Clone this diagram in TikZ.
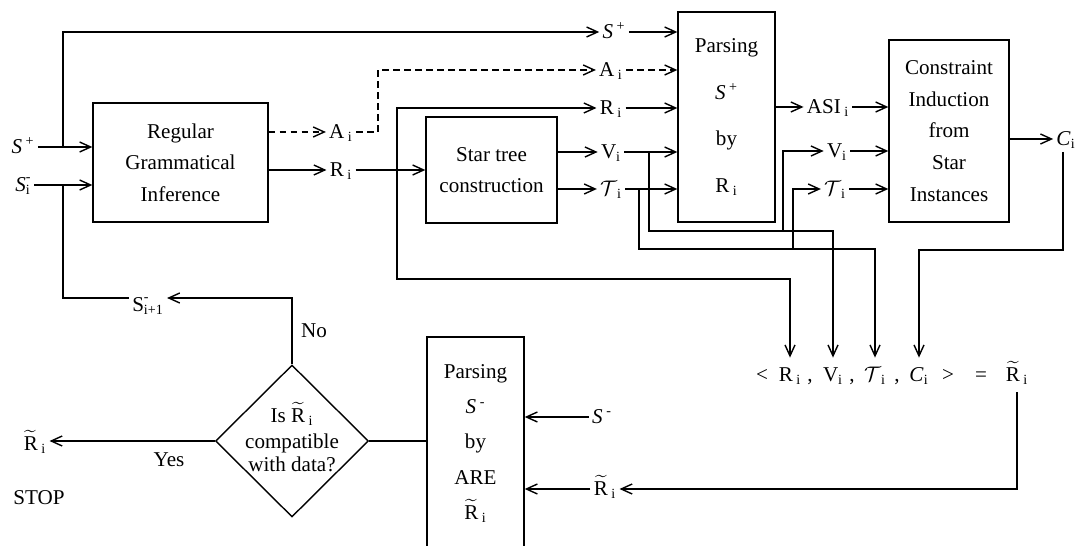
\documentclass[tikz,border=0pt]{standalone}
\usepackage{amsmath}
\usepackage{fontspec}
\setmainfont{Liberation Serif}
\usepackage{tikz}
\usetikzlibrary{
arrows.meta,
positioning,
shapes.geometric,
calc
}

\newcommand{\supsub}[3]{#1\rlap{\raisebox{0.25ex}{\textsuperscript{#2}}}\textsubscript{#3}}
\newcommand{\tildeRi}{$\widetilde{\text{R}}$\,\textsubscript{i}}
\newcommand{\tauTi}{$\mathcal{T}$\textsubscript{i}}

\begin{document}
\begin{tikzpicture}[
  x=0.02cm, y=-0.02cm,
  >={Straight Barb[length=2.2mm,width=2mm]},
  line width=0.8pt,
  every node/.style={font=\fontsize{12}{18}\selectfont},
  box/.style={draw, inner sep=0pt, align=center},
  lab/.style={inner sep=1.5pt, text height=9pt, text depth=2pt},
  tup/.style={lab, inner ysep=4pt},
  flow/.style={->},
  hint/.style={->, dash pattern=on 1.3mm off 0.9mm}
]
\useasboundingbox (0,0) rectangle (1077,546);

%% ── BOXES ───────────────────────────────────────────────────────
\node[box, minimum width=3.5cm, minimum height=2.38cm] (rgi) at (180.5,162.5)
  {Regular\\Grammatical\\Inference};
\node[box, minimum width=2.62cm, minimum height=2.12cm] (star) at (491.5,170)
  {Star tree\\construction};
\node[box, minimum width=1.94cm, minimum height=4.2cm,
      font=\fontsize{12}{26.5}\selectfont] (parse) at (726.5,117)
  {Parsing\\\textit{S}\,\textsuperscript{+}\\by\\R\,\textsubscript{i}};
\node[box, minimum width=2.4cm, minimum height=3.64cm] (cons) at (949,131)
  {Constraint\\Induction\\from\\Star\\Instances};
\node[box, minimum width=1.94cm, minimum height=4.26cm,
      font=\fontsize{12}{20}\selectfont] (parseneg) at (475.5,443.5)
  {Parsing\\\textit{S}\,\textsuperscript{-}\\by\\ARE\\\tildeRi};

%% ── DECISION ────────────────────────────────────────────────────
\node[draw, diamond, minimum width=3.06cm, minimum height=3.04cm,
      inner sep=0pt] (dia) at (292,441) {};
\node[align=center, font=\fontsize{12}{13}\selectfont] (diatxt) at (292,437)
  {Is \tildeRi\\[2pt]compatible\\with data?};

%% ── LABELS ──────────────────────────────────────────────────────
\node[lab] (spin)  at (23,147)  {\textit{S}\,\textsuperscript{+}};
\node[lab] (sin)   at (23,185)  {\supsub{\textit{S}}{-}{i}};
\node[lab] (aone)  at (341,132) {A\,\textsubscript{i}};
\node[lab] (rone)  at (341,170) {R\,\textsubscript{i}};
\node[lab] (sptop) at (614,32)  {\textit{S}\,\textsuperscript{+}};
\node[lab] (atop)  at (611,70)  {A\,\textsubscript{i}};
\node[lab] (rtop)  at (611,108) {R\,\textsubscript{i}};
\node[lab] (vtop)  at (611,152) {V\textsubscript{i}};
\node[lab] (ttop)  at (611,189) {\tauTi};
\node[lab] (asi)   at (828,107) {ASI\,\textsubscript{i}};
\node[lab] (vsec)  at (837,151) {V\textsubscript{i}};
\node[lab] (tsec)  at (835,189) {\tauTi};
\node[lab] (ci)    at (1066,139) {\textit{C}\textsubscript{i}};
\node[lab] (snext) at (148,305) {\supsub{S}{-}{i+1}};
\node[lab] (no)    at (314,331) {No};
\node[lab] (yes)   at (169,460) {Yes};
\node[lab] (rstop) at (35,444)  {\tildeRi};
\node[lab] (stop)  at (39,498)  {STOP};
\node[lab] (sneg)  at (602,417) {\textit{S}\,\textsuperscript{-}};
\node[lab] (rlow)  at (605,489) {\tildeRi};

%% ── TUPLE ───────────────────────────────────────────────────────
\node[tup] (tlt) at (762,375)  {<};
\node[tup] (tR)  at (790,375)  {R\,\textsubscript{i}};
\node[tup] (tc1) at (810,375)  {,};
\node[tup] (tV)  at (833,375)  {V\textsubscript{i}};
\node[tup] (tc2) at (852,375)  {,};
\node[tup] (tT)  at (875,375)  {\tauTi};
\node[tup] (tc3) at (897,375)  {,};
\node[tup] (tC)  at (919,375)  {\textit{C}\textsubscript{i}};
\node[tup] (tgt) at (948,375)  {>};
\node[tup] (teq) at (981,375)  {=};
\node[tup] (tRt) at (1017,375) {\tildeRi};

%% ── JUNCTIONS ───────────────────────────────────────────────────
\coordinate (jS)  at (63,147);
\coordinate (jN)  at (63,185);
\coordinate (jA)  at (378,132);
\coordinate (jR)  at (397,170);
\coordinate (jRd) at (397,279);
\coordinate (jV)  at (649,152);
\coordinate (jVd) at (649,231);
\coordinate (jVb) at (783,231);
\coordinate (jT)  at (639,189);
\coordinate (jTd) at (639,249);
\coordinate (jTb) at (793,249);
\coordinate (jC)  at (1063,250);
\coordinate (jD)  at (292,298);

%% ── INPUTS ──────────────────────────────────────────────────────
\draw[flow] (spin.east) -- (spin -| rgi.west);
\draw[flow] (sin.east) -- (sin -| rgi.west);
\draw[flow] (jS) |- (sptop.west);
\draw[flow] (sptop.east) -- (sptop -| parse.west);

%% ── AUTOMATON / REGEX ───────────────────────────────────────────
\draw[hint] (rgi.east |- aone) -- (aone.west);
\draw[hint] (aone.east) -- (jA) |- (atop.west);
\draw[hint] (atop.east) -- (atop -| parse.west);
\draw[flow] (rgi.east |- rone) -- (rone.west);
\draw[flow] (rone.east) -- (rone -| star.west);
\draw[flow] (jR) |- (rtop.west);
\draw[flow] (rtop.east) -- (rtop -| parse.west);
\draw[flow] (jR) -- (jRd) -| (tR.north);

%% ── STAR TREES ──────────────────────────────────────────────────
\draw[flow] (star.east |- vtop) -- (vtop.west);
\draw[flow] (star.east |- ttop) -- (ttop.west);
\draw[flow] (vtop.east) -- (vtop -| parse.west);
\draw[flow] (ttop.east) -- (ttop -| parse.west);
\draw[flow] (jV) -- (jVd) -| (tV.north);
\draw[flow] (jT) -- (jTd) -| (tT.north);
\draw[flow] (jVb) |- (vsec.west);
\draw[flow] (jTb) |- (tsec.west);

%% ── CONSTRAINTS ─────────────────────────────────────────────────
\draw[flow] (parse.east |- asi) -- (asi.west);
\draw[flow] (asi.east) -- (asi -| cons.west);
\draw[flow] (vsec.east) -- (vsec -| cons.west);
\draw[flow] (tsec.east) -- (tsec -| cons.west);
\draw[flow] (cons.east |- ci) -- (ci.west);
\draw[flow] (ci.south -| jC) -- (jC) -| (tC.north);

%% ── CHECK AND LOOP ──────────────────────────────────────────────
\draw[flow] (tRt.south) |- (rlow.east);
\draw[flow] (rlow.west) -- (rlow -| parseneg.east);
\draw[flow] (sneg.west) -- (sneg -| parseneg.east);
\draw (dia.east) -- (dia.east -| parseneg.west);
\draw[flow] (dia.west) -- (dia.west -| rstop.east);
\draw[flow] (dia.north) -- (jD) -- (jD -| snext.east);
\draw (jD -| snext.west) -| (jN);

\end{tikzpicture}
\end{document}
